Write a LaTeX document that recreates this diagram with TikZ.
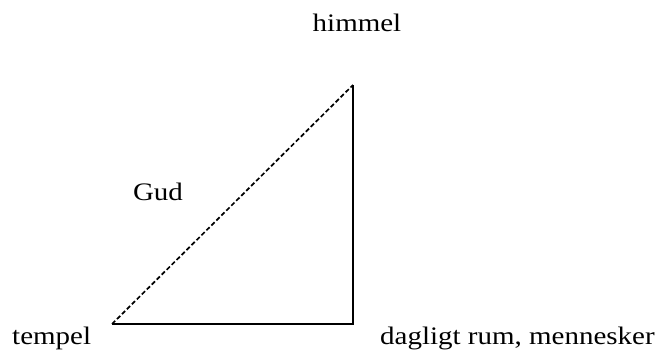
\documentclass[tikz,border=0pt]{standalone}
\usepackage{fontspec}
\setmainfont[FakeStretch=1.15]{Liberation Serif}
\begin{document}
\begin{tikzpicture}[x=1pt,y=1pt,
  lbl/.style={inner sep=0pt,font=\fontsize{25.2}{29}\selectfont},
  edge/.style={line width=1.8pt},
  dedge/.style={line width=1.7pt,dash pattern=on 4.5pt off 2.5pt}]
\useasboundingbox (0,0) rectangle (664,353);
\coordinate (t) at (112,29);
\coordinate (r) at (353,29);
\coordinate (h) at (353,268);
\draw[edge] (t) -- (r) -- (h);
\draw[dedge] (t) -- (h);
\node[lbl,anchor=base] (himmel) at (357,321) {himmel};
\node[lbl,anchor=base] (gud) at (158,152) {Gud};
\node[lbl,anchor=base west] (tempel) at (12,8) {tempel};
\node[lbl,anchor=base west] (dag) at (380,8) {dagligt rum, mennesker};
\end{tikzpicture}
\end{document}
